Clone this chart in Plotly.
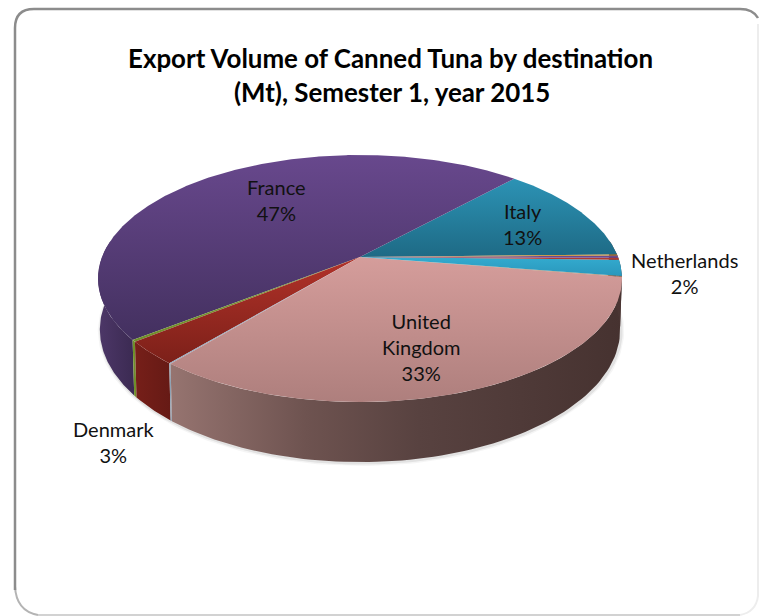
import numpy as np
import plotly.graph_objects as go

# ---- data, counter-clockwise from the start angle
slice_names = ["Italy", "France", "", "Denmark", "", "United<br>Kingdom", "", "Netherlands", "", "", ""]
slice_values = [12.9, 47.45, 0.25, 3.1, 0.1, 33.45, 0.1, 2.1, 0.25, 0.3, 0.15]

top_light = ["#2C93B5", "#68488D", "#7E9E35", "#B23229", "#8FA8C0", "#D59D9B", "#B08868", "#33ABCF", "#B03A30", "#6A4A90", "#C98A2B"]
top_dark = ["#1E6A85", "#43305F", "#6F8F2A", "#7C2019", "#8FA8C0", "#AE7F7D", "#B08868", "#2A97BC", "#B03A30", "#6A4A90", "#C98A2B"]
side_light = ["#4A3533", "#4D3768", "#6F8F2A", "#761F19", "#8FA3B5", "#967470", "#4A3533", "#4A3533", "#4A3533", "#4A3533", "#4A3533"]
side_dark = ["#4A3533", "#3B2A52", "#6F8F2A", "#661A15", "#8FA3B5", "#463230", "#4A3533", "#4A3533", "#4A3533", "#4A3533", "#4A3533"]

title_lines = ["Export Volume of Canned Tuna by destination", "(Mt), Semester 1, year 2015"]

# ---- projection of the tilted disc onto the page
CX, CY, R, A, K = 360, 257, 258, 119.8, 0.174
DEPTH, BASE_SHRINK = 49.6, 0.993
START_DEG = 1.2


def top_rim(theta):
    u, v = np.cos(theta), np.sin(theta)
    s = 1 / (1 + K * v)
    return CX + R * u * s, CY - A * v * s


def bottom_rim(theta):
    u, v = np.cos(theta), np.sin(theta)
    s = 1 / (1 + K * v)
    return CX + R * u * s * BASE_SHRINK, CY - A * v * s + DEPTH * s


values = np.array(slice_values, float)
edges = np.radians(START_DEG + np.concatenate([[0], np.cumsum(values)]) / values.sum() * 360)

fig = go.Figure()


def polygon(x, y, scale, kind, start, stop):
    fig.add_trace(go.Scatter(
        x=x, y=y, mode="lines", fill="toself", line=dict(width=0), hoverinfo="skip", showlegend=False,
        fillgradient=dict(type=kind, colorscale=scale, start=start, stop=stop),
    ))


# soft shadow below the base
t = np.linspace(np.radians(175), np.radians(365), 200)
bx, by = bottom_rim(t)
for w, a in [(6, 0.06), (3, 0.12)]:
    fig.add_trace(go.Scatter(x=bx + 1, y=by + 1, mode="lines", line=dict(width=w, color=f"rgba(90,90,90,{a})"),
                             hoverinfo="skip", showlegend=False))

# outer walls, visible on the near half only
vis_lo, vis_hi = np.radians(172), np.radians(368)
for i in range(len(values)):
    for shift in (0, 2 * np.pi):
        a0, a1 = max(edges[i] + shift, vis_lo), min(edges[i + 1] + shift, vis_hi)
        if a1 <= a0:
            continue
        t = np.linspace(a0, a1, 80)
        tx, ty = top_rim(t)
        bx, by = bottom_rim(t[::-1])
        x, y = np.r_[tx, bx, tx[0]], np.r_[ty, by, ty[0]]
        if slice_names[i].startswith("United"):
            scale = [[0, side_light[i]], [0.3, "#6E5350"], [0.55, "#584240"], [1, side_dark[i]]]
            polygon(x, y, scale, "horizontal", x.min(), x.max())
        else:
            polygon(x, y, [[0, side_light[i]], [1, side_dark[i]]], "horizontal", x.min(), x.max())

# top faces
for i in range(len(values)):
    t = np.linspace(edges[i], edges[i + 1], max(3, int(values[i] * 8)))
    tx, ty = top_rim(t)
    x, y = np.r_[CX, tx, CX], np.r_[CY, ty, CY]
    polygon(x, y, [[0, top_light[i]], [1, top_dark[i]]], "vertical", y.min(), y.max())

# chart frame
shapes = [
    dict(type="path", path="M 758 24 L 758 596 Q 756 612 740 615",
         line=dict(color="#EDEDED", width=2), layer="below", xref="x", yref="y"),
    dict(type="path", path="M 38 615 L 740 615",
         line=dict(color="#D2D2D2", width=2), layer="below", xref="x", yref="y"),
    dict(type="path", path="M 15 586 Q 16 611 38 615",
         line=dict(color="#B4B4B4", width=2), layer="below", xref="x", yref="y"),
    dict(type="path", path="M 15 590 L 15 28 Q 15 9 34 9 L 740 9 Q 753 9 758 18",
         line=dict(color="#8C8C8C", width=2.5), layer="below", xref="x", yref="y"),
]

FONT = "Lato, Carlito, Calibri, sans-serif"
annotations = [
    dict(x=390.5, y=58, text=title_lines[0], font=dict(size=25.9, color="#000000", family=FONT, weight="bold")),
    dict(x=391.5, y=92, text=title_lines[1], font=dict(size=25.9, color="#000000", family=FONT, weight="bold")),
]
label_at = {"Italy": (522, 224), "France": (276, 200), "Denmark": (113.5, 442), "United<br>Kingdom": (421, 347), "Netherlands": (684, 273)}
for name, v in zip(slice_names, slice_values):
    if not name:
        continue
    pct = round(v / values.sum() * 100)
    x, y = label_at[name]
    annotations.append(dict(x=x, y=y, text=f"{name}<br>{pct}%", font=dict(size=20, color="#111111", family=FONT), align="center"))
for a in annotations:
    a.update(xref="x", yref="y", showarrow=False, xanchor="center", yanchor="middle")

fig.update_layout(
    width=760, height=616, margin=dict(l=0, r=0, t=0, b=0), autosize=False,
    paper_bgcolor="white", plot_bgcolor="white", shapes=shapes, annotations=annotations,
    xaxis=dict(range=[0, 760], visible=False, fixedrange=True),
    yaxis=dict(range=[616, 0], visible=False, fixedrange=True),
)
fig.write_html("out.html", config=dict(displayModeBar=False),
               post_script="document.body.style.margin='0';document.documentElement.style.overflow='hidden';")
